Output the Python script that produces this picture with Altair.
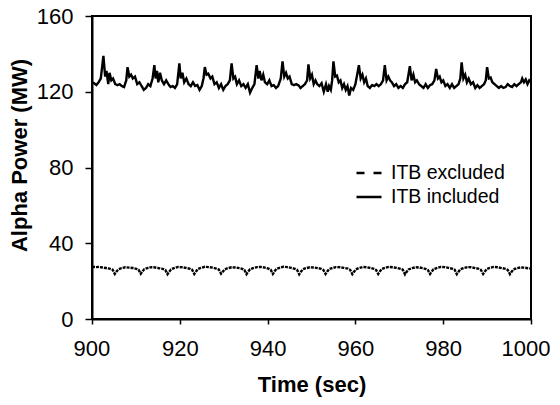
import altair as alt
import pandas as pd

# ITB included (upper curve)
t_inc = [900.0, 900.5, 901.0, 901.5, 902.0, 902.6, 903.0, 903.3, 903.7, 904.0, 904.4, 904.8, 905.3, 905.8, 906.3, 906.8,
         907.3, 907.8, 908.1, 908.5, 908.9, 909.3, 909.8, 910.3, 910.8, 911.3, 911.8, 912.3, 912.8, 913.3, 913.8, 914.2,
         914.5, 914.8, 915.1, 915.5, 915.9, 916.4, 916.9, 917.4, 917.9, 918.4, 918.9, 919.4, 919.9, 920.2, 920.6, 921.0,
         921.5, 922.0, 922.5, 923.0, 923.5, 924.0, 924.5, 925.0, 925.4, 925.7, 926.1, 926.5, 927.0, 927.4, 927.9, 928.4,
         928.9, 929.4, 929.9, 930.4, 930.9, 931.4, 931.8, 932.2, 932.6, 933.0, 933.5, 934.0, 934.5, 935.0, 935.5, 936.0,
         936.5, 937.0, 937.5, 937.9, 938.2, 938.6, 939.0, 939.4, 939.9, 940.4, 940.9, 941.4, 941.9, 942.4, 943.0, 943.4,
         943.8, 944.2, 944.6, 945.0, 945.5, 946.0, 946.5, 947.0, 947.5, 948.0, 948.5, 949.0, 949.3, 949.7, 950.1, 950.5,
         950.9, 951.3, 951.8, 952.3, 952.8, 953.3, 953.7, 954.0, 954.4, 954.7, 955.0, 955.4, 955.8, 956.2, 956.6, 957.0,
         957.4, 957.8, 958.2, 958.6, 959.0, 959.5, 960.0, 960.8, 961.2, 961.6, 962.0, 962.4, 962.8, 963.3, 963.8, 964.3,
         964.8, 965.3, 965.8, 966.3, 966.7, 967.1, 967.5, 967.9, 968.3, 968.8, 969.3, 969.8, 970.3, 970.8, 971.3, 971.8,
         972.4, 972.8, 973.2, 973.6, 974.0, 974.5, 975.0, 975.5, 976.0, 976.5, 977.0, 977.5, 978.0, 978.4, 978.8, 979.2,
         979.6, 980.0, 980.5, 981.0, 981.5, 982.0, 982.5, 983.0, 983.5, 983.9, 984.2, 984.6, 985.0, 985.4, 985.8, 986.3,
         986.8, 987.3, 987.8, 988.3, 988.8, 989.3, 989.7, 990.0, 990.4, 990.8, 991.2, 991.7, 992.2, 992.7, 993.2, 993.7,
         994.2, 994.7, 995.2, 995.7, 996.2, 996.7, 997.2, 997.7, 998.0, 998.4, 998.8, 999.2, 999.6, 1000.0]
p_inc = [125, 124.5, 123.5, 125, 127, 139, 128, 131, 124, 130, 126, 127, 124, 123.5, 124, 123,
         122.5, 126, 133, 128, 129, 127, 128, 124, 125, 123, 121, 122, 124, 123, 127, 134,
         127, 131, 125, 130, 126, 124, 126, 124, 122.5, 123, 122, 124, 135, 127, 130, 125,
         127, 124, 123, 125, 123, 123.5, 121, 123, 127, 133, 129, 129.5, 127, 128, 124, 125,
         122, 124, 121, 123, 124, 126, 135, 127, 128, 124, 126, 123, 124, 122, 124, 119.5,
         122, 124, 134, 127, 131, 126, 129, 125, 124, 126, 123, 123.5, 122, 123, 127, 136,
         128, 130, 127, 128, 124, 123.5, 124, 123.5, 122, 123, 124, 126, 134.5, 127, 129, 124,
         126, 124, 123, 124.5, 120, 124, 120, 123, 121, 126, 136, 128, 128.5, 125, 126, 122,
         124, 121, 123, 118, 122, 121, 124, 134, 127, 129, 125, 127, 123, 122, 123.5, 123,
         124, 123, 124, 126, 134, 126, 128, 126, 125, 123, 124, 122, 123, 122, 124, 125,
         133.5, 126, 129, 125, 126, 124, 123, 122, 124, 122, 123.5, 124, 126, 132, 127, 128,
         125, 126, 123, 124, 122, 124, 122, 123, 124, 127, 135.5, 127, 129, 125, 127, 124,
         125, 122, 123.5, 122, 123, 124, 126, 133, 127, 127.5, 125, 124, 123, 122, 123, 122,
         122.5, 124, 123, 122.5, 124, 123, 124, 125, 127, 125, 126.5, 124, 126, 125]

# ITB excluded (lower curve)
t_exc = [900.0, 900.8, 901.6, 902.4, 903.2, 904.0, 904.7, 905.2, 905.6, 906.0, 906.7, 907.6, 908.5, 909.3, 910.1, 910.6,
         911.1, 911.5, 911.9, 912.6, 913.5, 914.4, 915.3, 916.1, 916.7, 917.2, 917.6, 918.0, 918.7, 919.6, 920.5, 921.4,
         922.2, 922.8, 923.3, 923.7, 924.1, 924.8, 925.7, 926.6, 927.5, 928.3, 928.9, 929.4, 929.8, 930.2, 930.9, 931.8,
         932.7, 933.5, 934.2, 934.7, 935.2, 935.6, 936.0, 936.7, 937.6, 938.5, 939.4, 940.2, 940.7, 941.2, 941.6, 942.0,
         942.7, 943.6, 944.5, 945.4, 946.2, 946.7, 947.2, 947.6, 948.0, 948.7, 949.6, 950.5, 951.4, 952.2, 952.7, 953.2,
         953.6, 954.0, 954.7, 955.6, 956.5, 957.4, 958.3, 958.8, 959.3, 959.7, 960.1, 960.8, 961.7, 962.6, 963.5, 964.2,
         964.7, 965.2, 965.6, 966.0, 966.7, 967.6, 968.5, 969.4, 970.3, 970.8, 971.3, 971.7, 972.1, 972.8, 973.7, 974.6,
         975.4, 976.1, 976.5, 977.0, 977.4, 977.8, 978.5, 979.4, 980.3, 981.2, 982.0, 982.6, 983.1, 983.5, 983.9, 984.6,
         985.5, 986.4, 987.3, 988.1, 988.6, 989.1, 989.5, 989.9, 990.6, 991.5, 992.4, 993.3, 994.2, 994.7, 995.2, 995.6,
         996.0, 996.7, 997.6, 998.5, 999.3, 1000.0]
p_exc = [27.6, 27.4, 27.5, 27.2, 26.9, 26.6, 26.0, 23.8, 25.1, 26.2, 26.8, 27.3, 27.1, 26.9, 26.5, 26.0,
         23.9, 25.2, 26.3, 26.9, 27.4, 27.2, 26.8, 26.5, 25.9, 23.7, 25.0, 26.2, 26.9, 27.5, 27.3, 27.0,
         26.6, 26.0, 23.8, 25.1, 26.4, 27.0, 27.6, 27.4, 27.1, 26.6, 26.1, 23.9, 25.0, 26.2, 26.8, 27.3,
         27.2, 26.9, 26.5, 25.9, 23.7, 25.1, 26.3, 26.9, 27.4, 27.5, 27.1, 26.6, 26.0, 23.8, 25.2, 26.4,
         27.0, 27.6, 27.4, 27.0, 26.5, 26.0, 23.6, 25.0, 26.2, 26.8, 27.3, 27.2, 26.9, 26.5, 25.9, 23.8,
         25.1, 26.3, 26.9, 27.4, 27.3, 27.0, 26.6, 26.0, 23.7, 25.0, 26.2, 26.9, 27.5, 27.3, 26.9, 26.5,
         25.9, 23.8, 25.2, 26.4, 27.0, 27.5, 27.3, 27.0, 26.5, 26.0, 23.6, 25.0, 26.2, 26.8, 27.3, 27.2,
         26.8, 26.4, 25.9, 23.8, 25.1, 26.3, 26.9, 27.5, 27.4, 27.0, 26.6, 26.0, 23.7, 25.0, 26.2, 26.8,
         27.4, 27.3, 26.9, 26.5, 25.9, 23.8, 25.1, 26.3, 27.0, 27.5, 27.3, 26.9, 26.5, 25.9, 23.7, 25.0,
         26.2, 26.8, 27.2, 27.1, 26.8, 26.6]

series_names = ["ITB excluded", "ITB included"]
x_ticks = [900, 920, 940, 960, 980, 1000]
y_ticks = [0, 40, 80, 120, 160]

df = pd.concat([
    pd.DataFrame({"t": t_exc, "p": p_exc, "s": series_names[0]}),
    pd.DataFrame({"t": t_inc, "p": p_inc, "s": series_names[1]}),
])

FONT = "Liberation Sans"

x_enc = alt.X("t:Q", scale=alt.Scale(domain=[900, 1000], nice=False, zero=False),
              axis=alt.Axis(title="Time (sec)", values=x_ticks, format="d", grid=False,
                            labelFlush=True, labelFlushOffset=19,
                            tickSize=5, labelPadding=14, titlePadding=15))
y_enc = alt.Y("p:Q", scale=alt.Scale(domain=[0, 160], nice=False),
              axis=alt.Axis(title="Alpha Power (MW)", values=y_ticks, format="d", grid=False, labelFlush=False,
                            tickSize=7, labelPadding=12, titlePadding=5, titleY=139))

base = alt.Chart(df).encode(x=x_enc, y=y_enc, detail="s:N")

# data lines (fine dash for the ITB-excluded curve)
lines = base.mark_line(color="black", strokeWidth=2.4, clip=True).encode(
    strokeDash=alt.StrokeDash("s:N", scale=alt.Scale(domain=series_names, range=[[3, 1], [1, 0]]),
                              legend=None)
)

# legend-only layer (no rows drawn), with the coarser legend dash
legend_layer = base.transform_filter("datum.p < 0").mark_line(color="black", strokeWidth=2.4).encode(
    strokeDash=alt.StrokeDash("s:N", scale=alt.Scale(domain=series_names, range=[[8, 9], [1, 0]]),
                              legend=alt.Legend(title=None, orient="none", legendX=263, legendY=143,
                                                symbolType="stroke", symbolSize=625,
                                                symbolStrokeWidth=2.4, symbolStrokeColor="black",
                                                labelFontSize=19.5, labelFont=FONT, labelColor="black",
                                                labelOffset=8, rowPadding=-3))
)

chart = alt.layer(lines, legend_layer).resolve_scale(strokeDash="independent").properties(
    width=439, height=303,
    autosize=alt.AutoSizeParams(type="none"),
    padding={"left": 84, "top": 8, "right": 21, "bottom": 78},
).configure_view(
    stroke="black", strokeWidth=2
).configure_axis(
    domainColor="black", domainWidth=2, tickColor="black", tickWidth=1.5,
    labelFont=FONT, labelFontSize=22, labelColor="black",
    titleFont=FONT, titleFontSize=22, titleFontWeight="bold", titleColor="black",
)

chart.save("out.html", embed_options={"renderer": "svg", "actions": False})
